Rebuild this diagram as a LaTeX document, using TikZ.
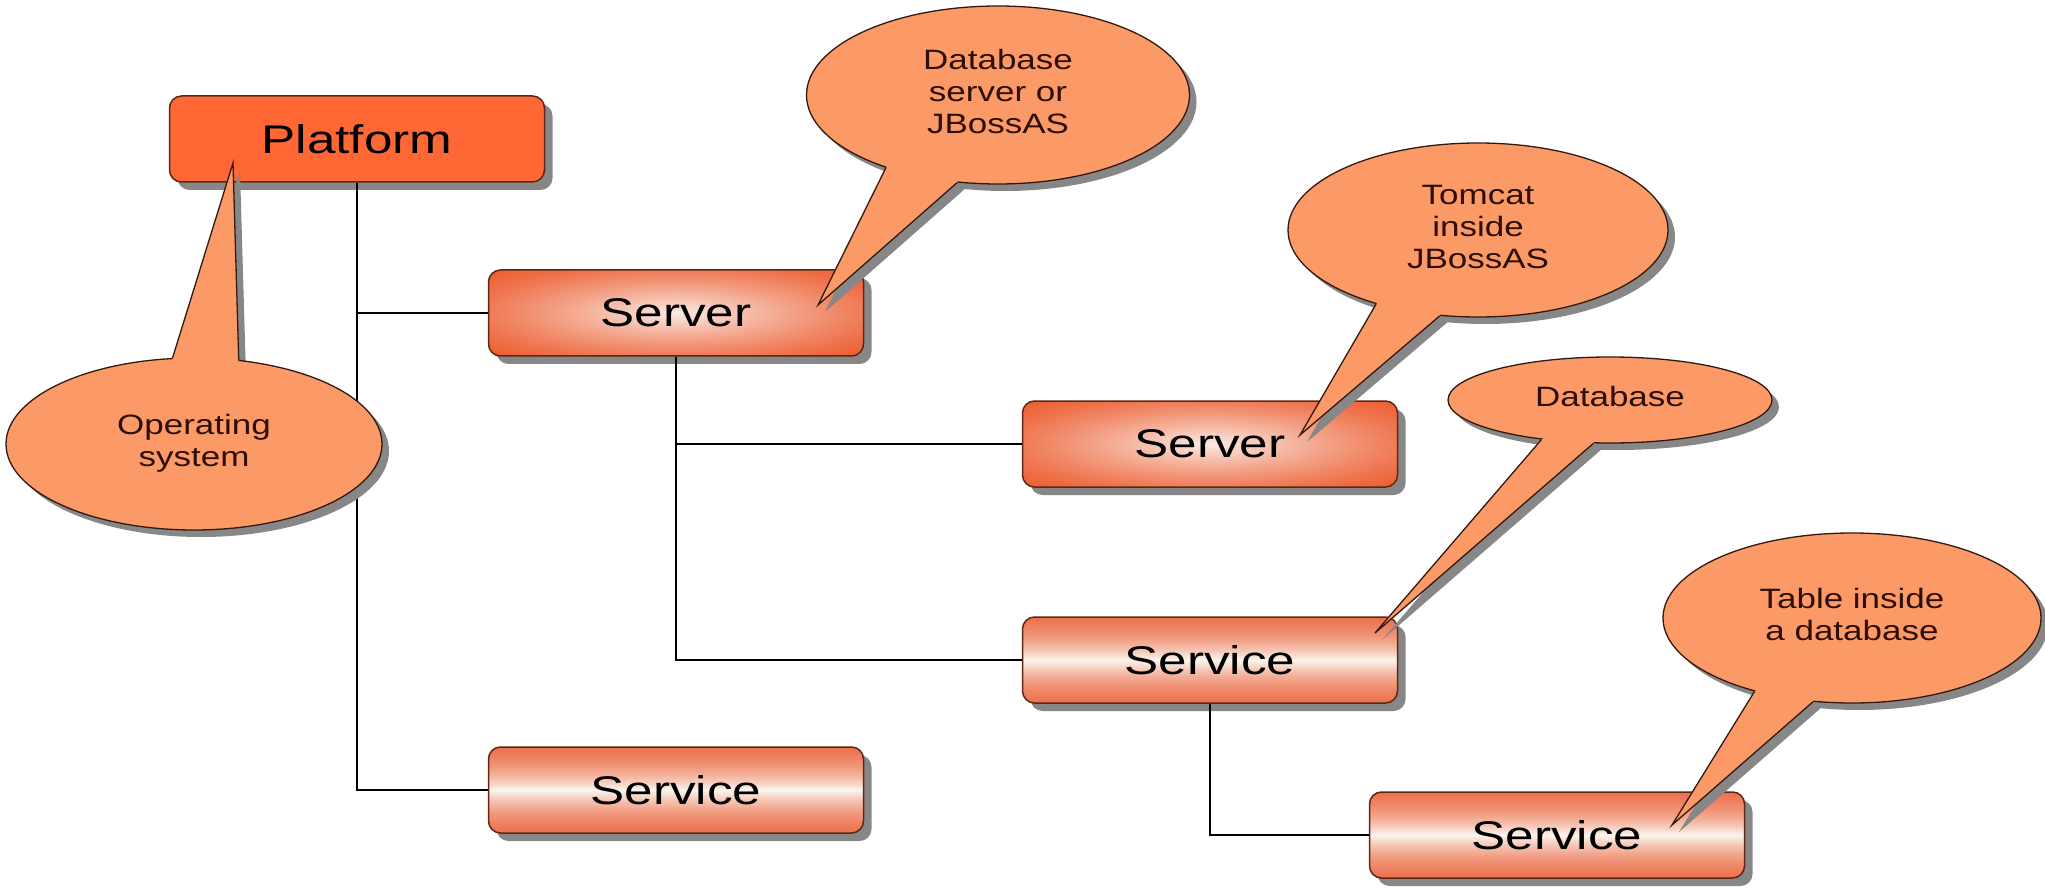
\documentclass[tikz,border=0pt]{standalone}
\usepackage{fontspec}
\setmainfont{Liberation Sans}
\usepackage{graphicx}
\usetikzlibrary{shapes.geometric,shadows,calc}
\definecolor{platfill}{RGB}{255,104,52}
\definecolor{boxline}{RGB}{90,40,20}
\definecolor{calfill}{RGB}{251,154,102}
\definecolor{calline}{RGB}{50,25,15}
\definecolor{caltext}{RGB}{45,15,8}
\definecolor{shadowc}{RGB}{135,135,135}
\pgfdeclarefunctionalshading{serversh}{\pgfpoint{-50bp}{-50bp}}{\pgfpoint{50bp}{50bp}}{}{
50 div dup mul exch 50 div dup mul add sqrt
0.68 div 1 exch sub dup 0 lt {pop 0} if
dup sqrt sqrt mul
dup 0.05 mul 0.93 add exch
dup 0.54 mul 0.38 add exch
0.68 mul 0.21 add
}
\pgfdeclarefunctionalshading{servicesh}{\pgfpoint{-50bp}{-50bp}}{\pgfpoint{50bp}{50bp}}{}{
abs 50 div 1 exch sub dup 0 lt {pop 0} if dup dup mul mul
exch abs 50 div 1 exch sub 4 mul dup 1 gt {pop 1} if dup 0 lt {pop 0} if
mul
dup 0.06 mul 0.92 add exch
dup 0.59 mul 0.37 add exch
0.72 mul 0.21 add
}
\pgfdeclarelayer{cshadow}
\pgfdeclarelayer{callout}
\pgfsetlayers{main,cshadow,callout}
\newcommand{\ctext}[1]{\scalebox{1.25}[1]{\begin{tabular}{@{}c@{}}#1\end{tabular}}}
\newcommand{\btext}[1]{\scalebox{1.28}[1]{#1}}
\tikzset{
  box/.style={draw=boxline, line width=1.5pt, rounded corners=12pt, minimum width=375pt,
    minimum height=86pt, inner sep=0pt, font=\fontsize{40}{48}\selectfont, text=black,
    drop shadow={shadow xshift=8pt, shadow yshift=-8pt, opacity=1, fill=shadowc}},
  platbox/.style={box, fill=platfill},
  serverbox/.style={box, shading=serversh},
  servicebox/.style={box, shading=servicesh},
  conn/.style={draw=black, line width=1.6pt},
  bubble/.style={ellipse, draw=calline, line width=1.3pt, fill=calfill, inner sep=0pt,
    text=caltext, font=\fontsize{28}{32}\selectfont},
  tailfill/.style={fill=calfill},
  tailedge/.style={draw=calline, line width=1.3pt, line join=miter},
  shd/.style={fill=shadowc},
}
\begin{document}
\begin{tikzpicture}[x=1pt,y=-1pt]
\useasboundingbox (0,0) rectangle (2045,890);

% boxes
\node[platbox] (plat) at (357,139) {\btext{Platform}};
\node[serverbox] (srv1) at (676,313) {\btext{Server}};
\node[serverbox] (srv2) at (1210,444) {\btext{Server}};
\node[servicebox] (svcM) at (1210,660) {\btext{Service}};
\node[servicebox] (svcL) at (676,790) {\btext{Service}};
\node[servicebox] (svcR) at (1557,835) {\btext{Service}};

% connectors
\draw[conn] (plat.south) |- (srv1.west);
\draw[conn] (plat.south) |- (svcL.west);
\draw[conn] (srv1.south) |- (srv2.west);
\draw[conn] (srv1.south) |- (svcM.west);
\draw[conn] (svcM.south) |- (svcR.west);

% callouts
\begin{pgfonlayer}{callout}
\node[bubble, minimum width=376pt, minimum height=172pt] (os) at (194,444) {\ctext{Operating\\system}};
\coordinate (ostip) at (233,163);
\fill[tailfill] (ostip) -- (os.104) -- ($(os.104)!0.15!(os.center)$) -- ($(os.62)!0.15!(os.center)$) -- (os.62) -- cycle;
\draw[tailedge] (os.104) -- (ostip) -- (os.62);

\node[bubble, minimum width=383pt, minimum height=178pt] (dbs) at (998,95) {\ctext{Database\\server or\\JBossAS}};
\coordinate (dbstip) at (818,305);
\fill[tailfill] (dbstip) -- (dbs.213) -- ($(dbs.213)!0.15!(dbs.center)$) -- ($(dbs.245)!0.15!(dbs.center)$) -- (dbs.245) -- cycle;
\draw[tailedge] (dbs.213) -- (dbstip) -- (dbs.245);

\node[bubble, minimum width=380pt, minimum height=174pt] (tom) at (1478,230) {\ctext{Tomcat\\inside\\JBossAS}};
\coordinate (tomtip) at (1300,435);
\fill[tailfill] (tomtip) -- (tom.216) -- ($(tom.216)!0.15!(tom.center)$) -- ($(tom.246)!0.15!(tom.center)$) -- (tom.246) -- cycle;
\draw[tailedge] (tom.216) -- (tomtip) -- (tom.246);

\node[bubble, minimum width=324pt, minimum height=86pt] (db) at (1610,400) {\ctext{Database}};
\coordinate (dbtip) at (1375,633);
\fill[tailfill] (dbtip) -- (db.210) -- ($(db.210)!0.15!(db.center)$) -- ($(db.249)!0.15!(db.center)$) -- (db.249) -- cycle;
\draw[tailedge] (db.210) -- (dbtip) -- (db.249);

\node[bubble, minimum width=378pt, minimum height=170pt] (tbl) at (1852,618) {\ctext{Table inside\\a database}};
\coordinate (tbltip) at (1672,825);
\fill[tailfill] (tbltip) -- (tbl.217) -- ($(tbl.217)!0.15!(tbl.center)$) -- ($(tbl.245)!0.15!(tbl.center)$) -- (tbl.245) -- cycle;
\draw[tailedge] (tbl.217) -- (tbltip) -- (tbl.245);
\end{pgfonlayer}

% callout shadows
\begin{pgfonlayer}{cshadow}
\begin{scope}[transform canvas={xshift=7pt,yshift=-7pt}]
\fill[shd] (os.center) ellipse [x radius=188, y radius=86];
\fill[shd] (ostip) -- (os.104) -- (os.center) -- (os.62) -- cycle;
\fill[shd] (dbs.center) ellipse [x radius=191.5, y radius=89];
\fill[shd] (dbstip) -- (dbs.213) -- (dbs.center) -- (dbs.245) -- cycle;
\fill[shd] (tom.center) ellipse [x radius=190, y radius=87];
\fill[shd] (tomtip) -- (tom.216) -- (tom.center) -- (tom.246) -- cycle;
\fill[shd] (db.center) ellipse [x radius=162, y radius=43];
\fill[shd] (dbtip) -- (db.210) -- (db.center) -- (db.249) -- cycle;
\fill[shd] (tbl.center) ellipse [x radius=189, y radius=85];
\fill[shd] (tbltip) -- (tbl.217) -- (tbl.center) -- (tbl.245) -- cycle;
\end{scope}
\end{pgfonlayer}
\end{tikzpicture}
\end{document}
